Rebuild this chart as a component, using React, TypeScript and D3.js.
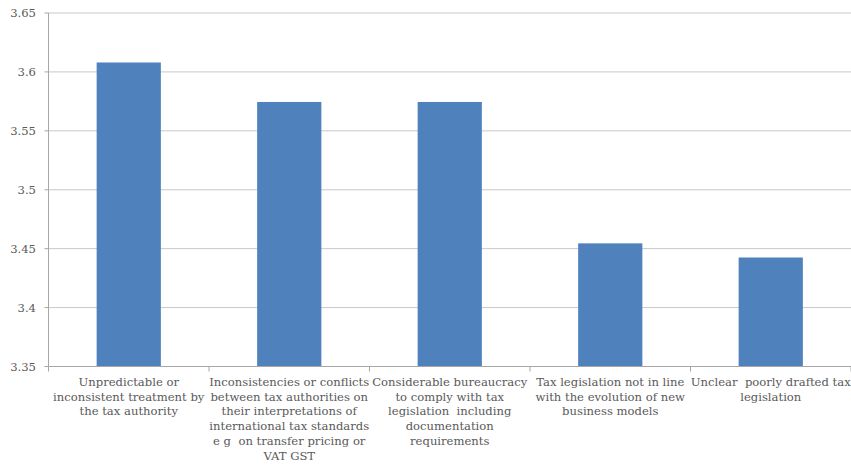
import React from "react";
import * as d3 from "d3";

const categories: string[][] = [
  ["Unpredictable or", "inconsistent treatment by", "the tax authority"],
  ["Inconsistencies or conflicts", "between tax authorities on", "their interpretations of", "international tax standards", "e g  on transfer pricing or", "VAT GST"],
  ["Considerable bureaucracy", "to comply with tax", "legislation  including", "documentation", "requirements"],
  ["Tax legislation not in line", "with the evolution of new", "business models"],
  ["Unclear  poorly drafted tax", "legislation"],
];
const values: number[] = [3.608, 3.5745, 3.5745, 3.4545, 3.4425];
const yTicks: number[] = [3.35, 3.4, 3.45, 3.5, 3.55, 3.6, 3.65];
const yTickLabels: string[] = ["3.35", "3.4", "3.45", "3.5", "3.55", "3.6", "3.65"];

const W = 851, H = 468;
const left = 48.5, right = 851, top = 13, bottom = 366.5;
const font = "'DejaVu Serif', serif";

export default function App() {
  const x = d3.scaleBand<number>().domain(d3.range(categories.length)).range([left, right]).padding(0);
  const y = d3.scaleLinear().domain([3.35, 3.65]).range([bottom, top]);
  const bw = x.bandwidth();
  const barW = bw * 0.4;
  return (
    <svg width={W} height={H} style={{ position: "absolute", left: 0, top: 0 }}>
      <rect width={W} height={H} fill="#fff" />
      {yTicks.map((t, i) => (
        <g key={i}>
          {i > 0 && <line x1={left} x2={right} y1={y(t)} y2={y(t)} stroke="#c8c8c8" strokeWidth={1} />}
          <line x1={left - 4} x2={left} y1={y(t)} y2={y(t)} stroke="#a6a6a6" />
          <text x={36} y={y(t)} dy="0.35em" textAnchor="end" fontFamily={font} fontSize={11.6} fill="#595959">{yTickLabels[i]}</text>
        </g>
      ))}
      {values.map((v, i) => (
        <rect key={i} x={(x(i) as number) + (bw - barW) / 2} y={y(v)} width={barW} height={y(3.35) - y(v)} fill="#4f81bd" />
      ))}
      <line x1={left} x2={left} y1={top} y2={bottom} stroke="#a6a6a6" />
      <line x1={left} x2={right} y1={bottom} y2={bottom} stroke="#a6a6a6" />
      {d3.range(categories.length + 1).map((i) => {
        const xx = i < categories.length ? (x(i) as number) : right;
        return <line key={i} x1={xx} x2={xx} y1={bottom} y2={bottom + 5} stroke="#a6a6a6" />;
      })}
      {categories.map((lines, i) => (
        <text key={i} x={(x(i) as number) + bw / 2} y={386} textAnchor="middle" fontFamily={font} fontSize={11.6} fill="#595959">
          {lines.map((l, j) => (
            <tspan key={j} x={(x(i) as number) + bw / 2} dy={j === 0 ? 0 : 14.7} style={{ whiteSpace: "pre" }}>{l}</tspan>
          ))}
        </text>
      ))}
    </svg>
  );
}
